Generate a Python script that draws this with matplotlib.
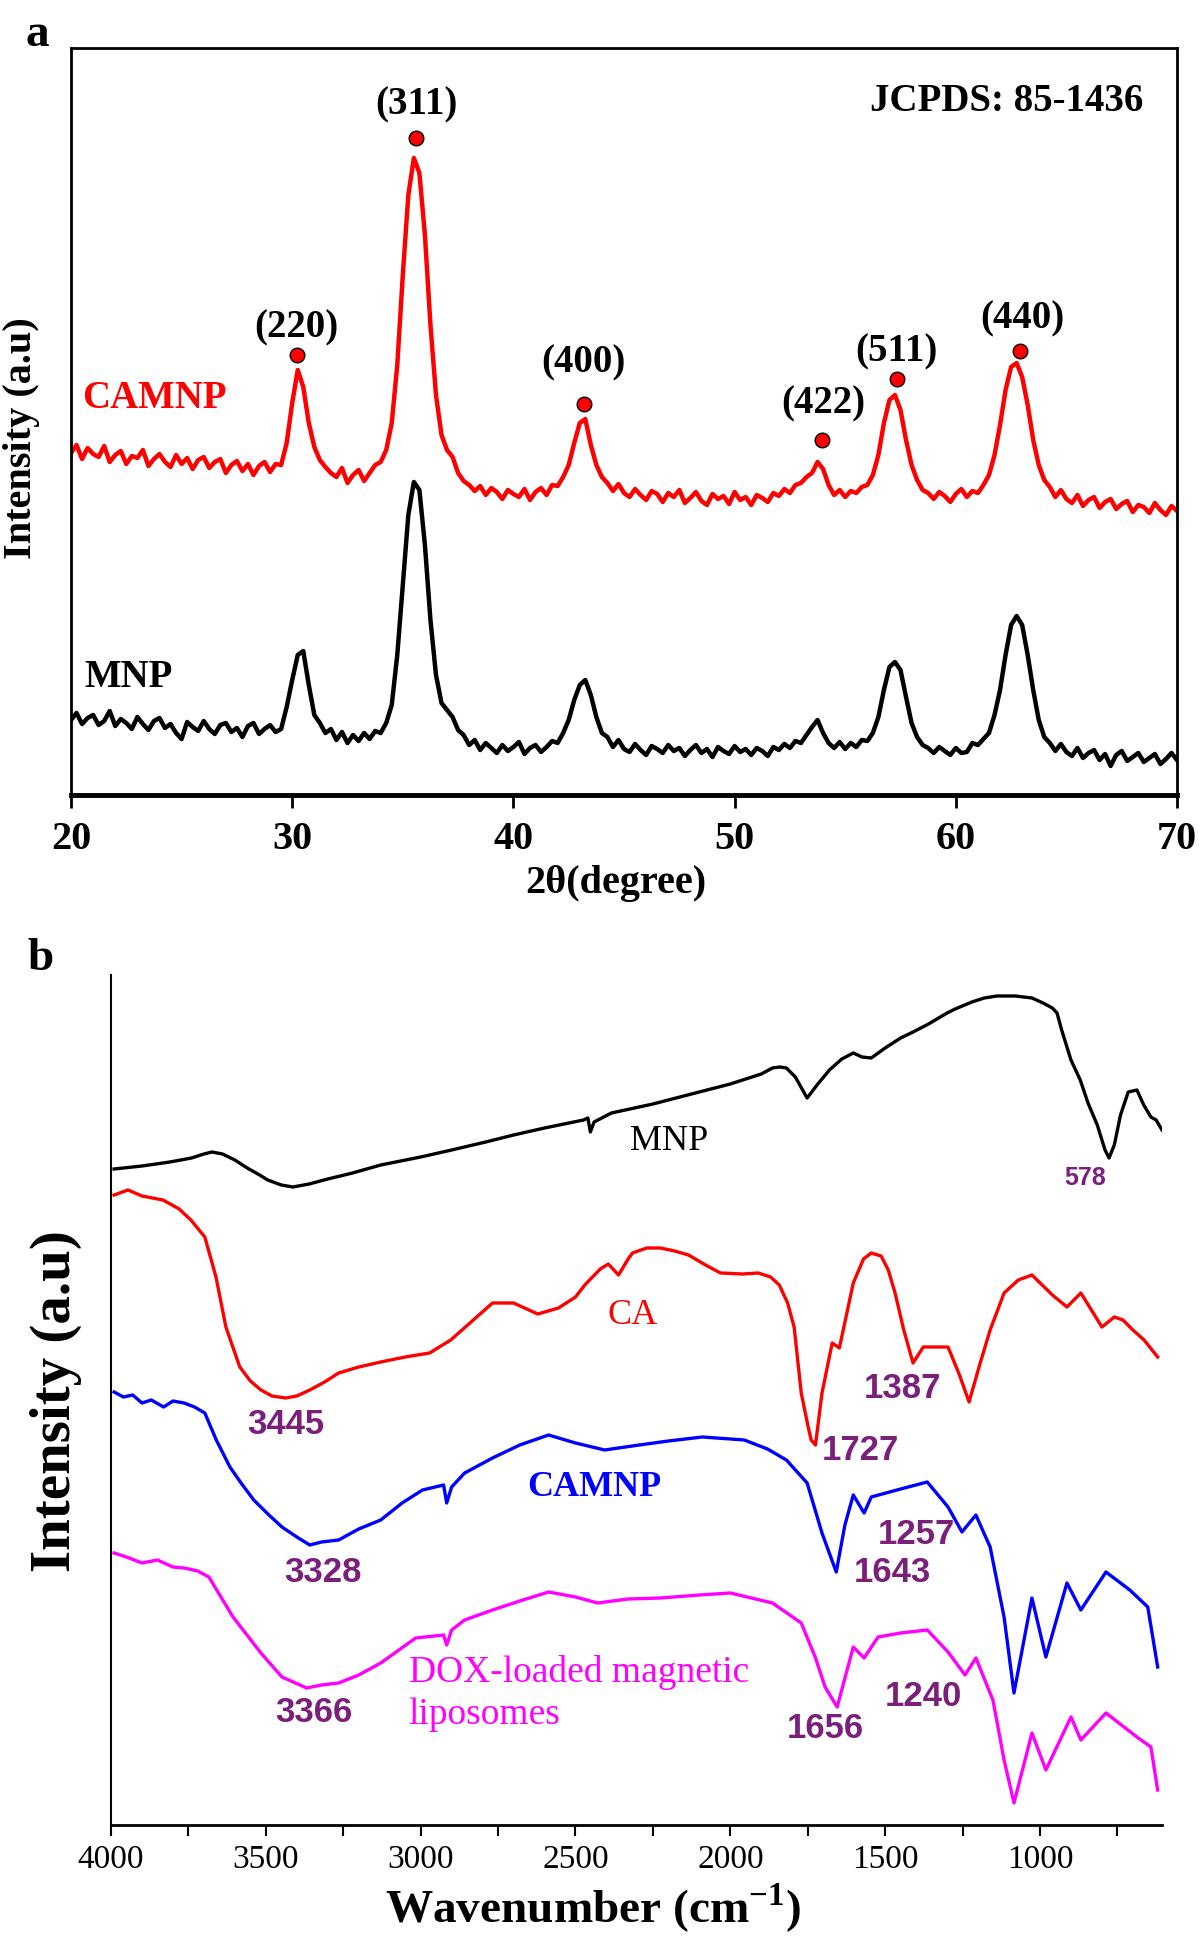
import matplotlib
matplotlib.use("Agg")
import matplotlib.pyplot as plt
from matplotlib.ticker import MultipleLocator

plt.rcParams["font.family"] = ["Liberation Serif", "DejaVu Serif"]
plt.rcParams["mathtext.fontset"] = "custom"
plt.rcParams["mathtext.rm"] = "Liberation Serif:bold"
plt.rcParams["mathtext.bf"] = "Liberation Serif:bold"

W, H = 1200, 1936

# ---------------- panel a : XRD ----------------
two_theta = [20 + 0.25 * i for i in range(201)]

camnp_xrd = [
    342, 350, 336, 347, 341, 338, 349, 333, 340, 344, 331, 339, 337, 345, 329, 336,
    341, 333, 328, 340, 331, 337, 326, 335, 338, 327, 333, 336, 322, 330, 334, 324,
    331, 320, 329, 333, 323, 331, 330, 352, 392, 425, 408, 372, 348, 335, 328, 322,
    318, 327, 312, 320, 325, 314, 322, 330, 333, 345, 372, 430, 520, 600, 637, 622,
    560, 470, 400, 360, 345, 338, 322, 314, 310, 304, 309, 300, 307, 303, 296, 305,
    301, 298, 306, 295, 303, 307, 300, 310, 309, 318, 330, 352, 372, 376, 350, 330,
    318, 312, 304, 311, 302, 298, 306, 300, 295, 304, 301, 293, 302, 298, 305, 292,
    297, 303, 294, 290, 301, 296, 299, 291, 303, 295, 298, 290, 300, 297, 293, 302,
    299, 306, 302, 310, 312, 318, 322, 333, 326, 310, 300, 305, 298, 304, 302, 308,
    310, 320, 340, 372, 395, 400, 385, 355, 330, 315, 305, 302, 296, 303, 299, 293,
    301, 306, 298, 304, 302, 310, 320, 340, 370, 405, 428, 432, 418, 390, 355, 330,
    315, 308, 298, 305, 296, 292, 300, 289, 295, 298, 287, 293, 296, 286, 291, 294,
    283, 290, 288, 282, 292, 285, 280, 289, 284,
]

mnp_xrd = [
    75, 82, 71, 77, 80, 70, 74, 84, 69, 76, 72, 66, 78, 71, 65, 74,
    77, 67, 71, 62, 56, 73, 68, 64, 74, 66, 61, 70, 72, 63, 67, 58,
    69, 72, 61, 66, 70, 63, 66, 88, 115, 140, 144, 110, 80, 72, 62, 66,
    55, 63, 52, 60, 54, 62, 56, 64, 62, 72, 90, 140, 210, 280, 313, 305,
    250, 175, 120, 92, 85, 78, 65, 60, 50, 55, 45, 52, 47, 42, 50, 44,
    48, 53, 41, 47, 50, 43, 48, 54, 52, 62, 75, 95, 110, 115, 100, 78,
    62, 58, 48, 55, 46, 43, 51, 45, 40, 49, 46, 42, 50, 44, 47, 39,
    45, 50, 42, 46, 38, 48, 44, 41, 49, 43, 46, 40, 47, 44, 39, 48,
    45, 51, 47, 54, 52, 60, 68, 75, 62, 52, 47, 53, 46, 52, 48, 55,
    54, 62, 78, 105, 128, 133, 125, 98, 72, 58, 50, 47, 42, 48, 44, 40,
    47, 42, 43, 52, 50, 56, 62, 80, 105, 140, 170, 179, 170, 140, 105, 75,
    58, 52, 44, 51, 43, 39, 47, 37, 42, 45, 35, 41, 29, 40, 44, 34,
    38, 42, 33, 37, 41, 31, 36, 42, 35,
]

hkl_labels = ["(220)", "(311)", "(400)", "(422)", "(511)", "(440)"]
hkl_pos = [30.2, 35.6, 43.2, 53.95, 57.35, 62.9]
hkl_mark = [440, 657, 391, 355, 416, 444]
hkl_text_x = [30.2, 35.6, 43.15, 54.0, 57.3, 63.0]
hkl_text_y = [467, 690, 432, 391, 443, 476]

# ---------------- panel b : FTIR ----------------
mnp_w = [3990, 3900, 3810, 3740, 3700, 3674, 3640, 3600, 3560, 3520, 3494, 3450, 3413,
         3360, 3300, 3220, 3129, 3000, 2900, 2790, 2700, 2600, 2474, 2460, 2452, 2440,
         2384, 2250, 2113, 2000, 1900, 1864, 1840, 1819, 1790, 1752, 1720, 1680, 1640,
         1603, 1575, 1545, 1500, 1450, 1410, 1360, 1300, 1274, 1220, 1180, 1139, 1080,
         1026, 990, 960, 945, 930, 900, 870, 845, 815, 790, 777, 760, 740, 715, 687,
         665, 642, 625, 606]
mnp_ir = [656, 659, 663, 667, 671, 673, 671, 665, 657, 650, 645, 640, 638,
          641, 646, 652, 660, 668, 675, 683, 690, 697, 705, 707, 693, 703,
          712, 721, 732, 741, 751, 757, 758, 757, 748, 727, 740, 755, 766,
          772, 768, 767, 777, 787, 793, 801, 812, 816, 823, 827, 829, 829,
          827, 822, 817, 812, 795, 765, 745, 722, 700, 675, 667, 680, 710,
          733, 735, 720, 708, 705, 695]

ca_w = [3990, 3945, 3900, 3832, 3780, 3742, 3697, 3661, 3629, 3600, 3584, 3550, 3516,
        3480, 3436, 3400, 3358, 3310, 3265, 3200, 3129, 3050, 2971, 2903, 2830, 2768,
        2700, 2622, 2555, 2500, 2470, 2420, 2394, 2361, 2330, 2316, 2270, 2226, 2180,
        2135, 2080, 2032, 1960, 1910, 1870, 1842, 1815, 1794, 1771, 1750, 1739, 1725,
        1704, 1671, 1648, 1625, 1603, 1570, 1545, 1513, 1490, 1468, 1440, 1410, 1377,
        1297, 1260, 1229, 1195, 1161, 1116, 1070, 1026, 960, 913, 868, 800, 760, 732,
        700, 664, 620]
ca_ir = [630, 635, 629, 625, 616, 605, 588, 548, 498, 472, 458, 444, 435,
         429, 427, 429, 435, 443, 452, 458, 463, 468, 472, 485, 505, 522,
         522, 511, 517, 528, 540, 556, 561, 550, 566, 572, 577, 577, 574,
         570, 560, 552, 551, 552, 548, 540, 522, 498, 432, 400, 385, 380,
         432, 482, 477, 510, 542, 566, 572, 569, 555, 532, 495, 462, 478,
         478, 450, 423, 460, 495, 532, 545, 550, 530, 518, 532, 498, 508, 505,
         495, 485, 468]

camnp_w = [3990, 3960, 3930, 3900, 3870, 3830, 3800, 3764, 3730, 3697, 3660, 3616,
           3580, 3539, 3490, 3448, 3400, 3358, 3320, 3265, 3200, 3129, 3060, 2994,
           2926, 2916, 2900, 2858, 2768, 2680, 2587, 2500, 2406, 2294, 2200, 2090,
           1955, 1880, 1819, 1752, 1704, 1658, 1630, 1603, 1568, 1545, 1450, 1364,
           1297, 1252, 1207, 1161, 1116, 1084, 1026, 981, 913, 868, 787, 710, 652,
           620]
camnp_ir = [433, 428, 430, 422, 425, 418, 424, 422, 418, 412, 385, 358,
            342, 325, 310, 298, 288, 280, 283, 285, 296, 305, 322, 335,
            340, 322, 338, 352, 367, 380, 390, 382, 375, 380, 384, 388,
            385, 376, 365, 342, 292, 253, 300, 330, 312, 328, 336, 343,
            318, 293, 310, 278, 208, 132, 227, 168, 242, 215, 253, 235, 218,
            158]

dox_w = [3990, 3950, 3900, 3850, 3800, 3764, 3720, 3684, 3606, 3516, 3448, 3368,
         3320, 3265, 3200, 3129, 3016, 2926, 2916, 2900, 2858, 2768, 2680, 2587,
         2500, 2429, 2330, 2226, 2100, 2000, 1864, 1771, 1726, 1694, 1655, 1603,
         1568, 1523, 1450, 1364, 1297, 1242, 1207, 1152, 1116, 1084, 1026, 981,
         900, 868, 787, 687, 642, 620]
dox_ir = [272, 268, 262, 265, 258, 257, 254, 248, 208, 172, 148, 137,
          140, 142, 150, 162, 187, 190, 180, 195, 205, 215, 224, 233,
          228, 222, 226, 227, 230, 232, 222, 202, 168, 138, 118, 178,
          167, 188, 192, 195, 173, 150, 167, 125, 65, 22, 92, 55,
          108, 85, 112, 88, 78, 35]

peak_nums = ["3445", "1387", "1727", "3328", "1257", "1643", "3366", "1240", "1656"]
peak_w = [3436, 1445, 1581, 3316, 1400, 1477, 3345, 1377, 1694]
peak_h = [400, 437, 375, 253, 290, 252, 112, 128, 97]

fig = plt.figure(figsize=(W / 100, H / 100), dpi=100)

# panel a
ax1 = fig.add_axes([71 / W, 1 - 795 / H, 1106 / W, 747 / H])
ax1.plot(two_theta, camnp_xrd, color="#ff0000", lw=3.2)
ax1.plot(two_theta, mnp_xrd, color="black", lw=3.2)
ax1.plot(hkl_pos, hkl_mark, "o", ms=10.5, mfc="#ff0000", mec="black", mew=1.0)
for lab, x, y in zip(hkl_labels, hkl_text_x, hkl_text_y):
    ax1.text(x, y, lab, ha="center", va="center", fontsize=28, fontweight="bold")
ax1.text(68.5, 693, "JCPDS: 85-1436", ha="right", va="center", fontsize=28, fontweight="bold")
ax1.text(20.5, 396, "CAMNP", color="#ff0000", ha="left", va="center", fontsize=28, fontweight="bold")
ax1.text(20.6, 117, "MNP", color="black", ha="left", va="center", fontsize=28, fontweight="bold")
ax1.set_xlim(20, 70)
ax1.set_ylim(0, 747)
ax1.set_xticks(range(20, 71, 10))
ax1.set_yticks([])
ax1.tick_params(axis="x", direction="out", length=9, width=2, pad=10, labelsize=29)
for lab in ax1.get_xticklabels():
    lab.set_fontweight("bold")
for s in ax1.spines.values():
    s.set_linewidth(2)
ax1.spines["bottom"].set_linewidth(3.5)

fig.text(37 / W, 1 - 35 / H, "a", ha="center", va="center", fontsize=34, fontweight="bold")
fig.text(22 / W, 1 - 438 / H, "Intensity (a.u)", rotation=90, ha="center", va="center",
         fontsize=29, fontweight="bold")
fig.text(616 / W, 1 - 883 / H, "2θ(degree)", ha="center", va="center", fontsize=29, fontweight="bold")

# panel b
ax2 = fig.add_axes([111 / W, 1 - 1825 / H, 1051 / W, 850 / H])
ax2.plot(mnp_w, mnp_ir, color="black", lw=2.4)
ax2.plot(ca_w, ca_ir, color="#ff0000", lw=2.4)
ax2.plot(camnp_w, camnp_ir, color="#0000ff", lw=2.4)
ax2.plot(dox_w, dox_ir, color="#ff00ff", lw=2.4)
for lab, x, y in zip(peak_nums, peak_w, peak_h):
    ax2.text(x, y, lab, ha="center", va="center", fontsize=25, fontweight="bold",
             color="#7a1f7a", family="Liberation Sans")
ax2.text(855, 647, "578", ha="center", va="center", fontsize=18, fontweight="bold",
         color="#7a1f7a", family="Liberation Sans")
ax2.text(2197, 683, "MNP", ha="center", va="center", fontsize=26, color="black")
ax2.text(2316, 510, "CA", ha="center", va="center", fontsize=26, color="#ff0000")
ax2.text(2439, 338, "CAMNP", ha="center", va="center", fontsize=26, color="#0000ff", fontweight="bold")
ax2.text(3039, 153, "DOX-loaded magnetic", ha="left", va="center", fontsize=27, color="#ff00ff")
ax2.text(3039, 110, "liposomes", ha="left", va="center", fontsize=27, color="#ff00ff")
ax2.set_xlim(4000, 606)
ax2.set_ylim(0, 850)
ax2.set_yticks([])
ax2.xaxis.set_major_locator(MultipleLocator(500))
ax2.xaxis.set_minor_locator(MultipleLocator(250))
ax2.tick_params(axis="x", which="both", direction="out", length=8, width=1.5, pad=6, labelsize=24)
ax2.spines["top"].set_visible(False)
ax2.spines["right"].set_visible(False)
ax2.spines["left"].set_linewidth(1.5)
ax2.spines["bottom"].set_linewidth(2)

fig.text(40 / W, 1 - 959 / H, "b", ha="center", va="center", fontsize=34, fontweight="bold")
fig.text(56 / W, 1 - 1401 / H, "Intensity (a.u)", rotation=90, ha="center", va="center",
         fontsize=41, fontweight="bold")
fig.text(593 / W, 1 - 1908 / H, "Wavenumber (cm$^{-1}$)", ha="center", va="center",
         fontsize=34, fontweight="bold")

fig.savefig("out.png", dpi=100)
